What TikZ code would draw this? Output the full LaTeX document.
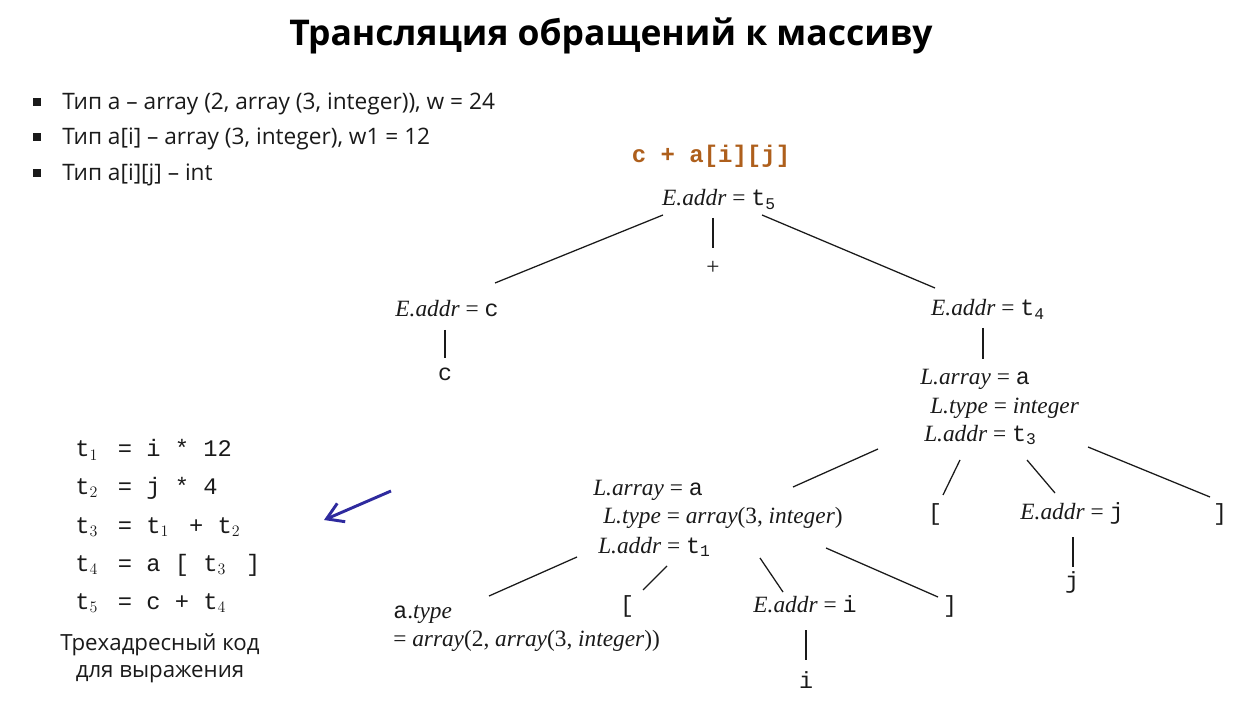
\documentclass[tikz,border=0pt]{standalone}
\usepackage{fontspec}
\setmainfont{Open Sans}
\newfontfamily\trm{Liberation Serif}
\newfontfamily\tmono{Liberation Mono}
\usetikzlibrary{arrows.meta,calc}
\definecolor{txt}{HTML}{1A1A1A}
\definecolor{codec}{HTML}{AE5F1C}
\definecolor{arrc}{HTML}{2E2A9E}
\newcommand\tm[1]{{\tmono #1}}
\newcommand\sbs[1]{\makebox[0.6em][l]{$_{#1}$}}
\begin{document}
\begin{tikzpicture}[x=0.75pt,y=-0.75pt,
  title/.style={font=\fontsize{26.6}{30}\selectfont\bfseries, text=black, inner sep=0},
  bul/.style={anchor=west, font=\fontsize{17}{20}\selectfont, text=txt, inner sep=0, text height=12pt, text depth=3.5pt},
  bsq/.style={fill=txt, minimum size=5.5pt, inner sep=0},
  tr/.style={font=\trm\fontsize{17.5}{20}\selectfont, text=txt, inner sep=0, text height=11pt, text depth=3.5pt},
  trw/.style={tr, anchor=west},
  codel/.style={anchor=west, font=\tmono\fontsize{17.8}{20}\selectfont, text=txt, inner sep=0},
  captext/.style={font=\fontsize{16.7}{19}\selectfont, text=txt, inner sep=0},
  edge/.style={draw=txt, line width=0.95pt},
  pointer/.style={draw=arrc, line width=2.2pt, -{Straight Barb[length=12pt,width=15pt]}}
]
\useasboundingbox (0,0) rectangle (1236,709);
\node[title] (T) at (611,36) {Трансляция обращений к массиву};

\node[bsq] (s1) at (37,102) {};
\node[bsq] (s2) at (37,137) {};
\node[bsq] (s3) at (37,173) {};
\node[bul] (b1) at (62,104) {Тип a – array (2, array (3, integer)), w = 24};
\node[bul] (b2) at (62,139) {Тип a[i] – array (3, integer), w1 = 12};
\node[bul] (b3) at (62,175) {Тип a[i][j] – int};

\node[font=\tmono\bfseries\fontsize{18}{20}\selectfont, text=codec, inner sep=0] (ce) at (711,156) {c + a[i][j]};

% tree
\node[tr] (R) at (719,201) {\textit{E.addr} = \tm{t\textsubscript{5}}};
\node[tr] (plus) at (713,270) {+};
\node[tr] (Ec) at (447,312) {\textit{E.addr} = \tm{c}};
\node[tr] (c) at (445,376) {\tm{c}};
\node[tr] (E4) at (988,311) {\textit{E.addr} = \tm{t\textsubscript{4}}};
\node[trw] (L1a) at (920,380) {\textit{L.array} = \tm{a}};
\node[trw] (L1t) at (930,408) {\textit{L.type} = \textit{integer}};
\node[trw] (L1d) at (924,436) {\textit{L.addr} = \tm{t\textsubscript{3}}};
\node[tr] (lb1) at (935,515) {\tm{[}};
\node[tr] (Ej) at (1072,514) {\textit{E.addr} = \tm{j}};
\node[tr] (rb1) at (1220,515) {\tm{]}};
\node[tr] (j) at (1072,583) {\tm{j}};
\node[trw] (L2a) at (593,490) {\textit{L.array} = \tm{a}};
\node[trw] (L2t) at (603,518) {\textit{L.type} = \textit{array}(3, \textit{integer})};
\node[trw] (L2d) at (598,548) {\textit{L.addr} = \tm{t\textsubscript{1}}};
\node[trw] (at) at (393,613) {\tm{a}.\textit{type}};
\node[trw] (aeq) at (393,641) {= \textit{array}(2, \textit{array}(3, \textit{integer}))};
\node[tr] (lb2) at (627,607) {\tm{[}};
\node[tr] (Ei) at (805,607) {\textit{E.addr} = \tm{i}};
\node[tr] (rb2) at (950,607) {\tm{]}};
\node[tr] (i) at (806,683) {\tm{i}};

\draw[edge] ($(R)+(-56,14)$) -- ($(Ec)+(48,-29)$);
\draw[edge] ($(R)+(-6,17)$) -- ($(plus)+(0,-22)$);
\draw[edge] ($(R)+(43,14)$) -- ($(E4)+(-53,-23)$);
\draw[edge] ($(Ec)+(-2,18)$) -- ($(c)+(0,-18)$);
\draw[edge] ($(E4)+(-5,17)$) -- ($(L1a.west)+(63,-21)$);
\draw[edge] ($(L1d.west)+(-46,13)$) -- ($(L2a.west)+(200,-3)$);
\draw[edge] ($(L1d.west)+(36,24)$) -- ($(lb1)+(8,-20)$);
\draw[edge] ($(L1d.west)+(103,24)$) -- ($(Ej)+(-17,-21)$);
\draw[edge] ($(L1d.west)+(164,11)$) -- ($(rb1)+(-10,-18)$);
\draw[edge] ($(Ej)+(1,23)$) -- ($(j)+(1,-16)$);
\draw[edge] ($(L2d.west)+(-21,9)$) -- ($(at.west)+(96,-17)$);
\draw[edge] ($(L2d.west)+(69,18)$) -- ($(lb2)+(16,-17)$);
\draw[edge] ($(L2d.west)+(162,10)$) -- ($(Ei)+(-22,-15)$);
\draw[edge] ($(L2d.west)+(228,0)$) -- ($(rb2)+(-12,-10)$);
\draw[edge] ($(Ei)+(1,23)$) -- ($(i)+(0,-23)$);

% code
\node[codel] (k1) at (75,450) {t\sbs{1} = i * 12};
\node[codel] (k2) at (75,488) {t\sbs{2} = j * 4};
\node[codel] (k3) at (75,527) {t\sbs{3} = t\sbs{1} + t\sbs{2}};
\node[codel] (k4) at (75,565) {t\sbs{4} = a [ t\sbs{3} ]};
\node[codel] (k5) at (75,603) {t\sbs{5} = c + t\sbs{4}};
\node[captext] (cap1) at (160,645) {Трехадресный код};
\node[captext] (cap2) at (160,674) {для выражения};

\coordinate (arS) at (391,491);
\coordinate (arE) at (324,520);
\draw[pointer] (arS) -- (arE);
\end{tikzpicture}
\end{document}
